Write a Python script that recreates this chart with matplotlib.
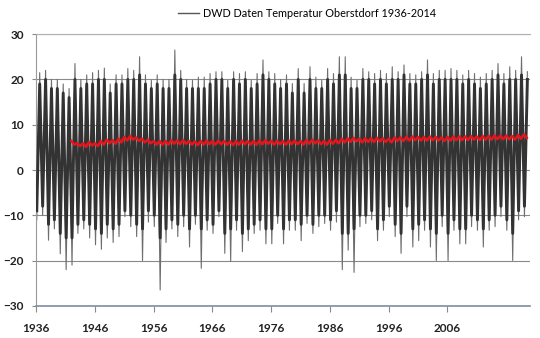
import matplotlib
matplotlib.use("Agg")
import matplotlib.pyplot as plt
import numpy as np

plt.rcParams['font.family'] = ['Lato', 'DejaVu Sans']

# one cycle per year: winter low / summer high (extremes and dense core)
years = list(range(1936, 2020))
t_high = [21.5, 22, 20, 20, 19, 18, 23.5, 20, 21, 21.5, 22, 22.5, 19, 21,
          21, 22.4, 22, 25, 21, 19.8, 21, 20, 20, 26.5, 22, 20, 19.8, 20.5,
          20.5, 21.3, 21.7, 21.7, 19.8, 21.7, 21.3, 21.7, 19.8, 21.3, 24.3, 21.7, 21.3, 20,
          21, 19.1, 22.4, 19.1, 22.8, 20.5, 19.8, 22.4, 21.3, 25, 25, 20.5, 19.8, 22.4,
          21.7, 21.3, 22, 21.3, 22.8, 21.7, 23.2, 21.3, 21, 21.7, 24.3, 21.3, 22, 22,
          22.4, 22, 21, 22, 21.3, 20.5, 21.3, 22, 23.5, 21.3, 22.8, 22, 25, 21.7]
t_low = [-11, -10, -15.5, -13, -18.5, -22, -21, -14, -13, -15, -16.5, -17.5, -15, -16,
         -14.7, -10.3, -12.5, -14.7, -20, -11.5, -12.5, -26.5, -16, -13, -14.7, -12.5, -17, -12,
         -21.7, -13.3, -14, -10.3, -18.4, -20.2, -13.3, -18, -15.6, -14, -13.3, -16.3, -16.3, -11.8,
         -16.3, -13.3, -13.3, -15.6, -11.8, -14, -12.5, -11.8, -13.3, -11.5, -22, -17.7, -22.6, -12.5,
         -11.8, -11, -15.6, -13.3, -10.3, -14.7, -18.4, -10.3, -17, -15.6, -13.3, -17, -20, -12.5,
         -20, -13.3, -16.3, -16.3, -12.5, -13.3, -17, -13.3, -12.5, -10.3, -13.3, -20, -11, -10.3]
core_high = [19, 20, 18, 18, 17, 16, 20, 18, 19, 19, 20, 20, 17, 19,
             19, 20, 20, 21, 19, 18, 19, 18, 18, 21, 20, 18, 18, 18,
             18, 19, 20, 20, 18, 20, 19, 20, 18, 19, 21, 20, 19, 18,
             19, 17, 20, 17, 20, 18, 18, 20, 19, 21, 21, 18, 18, 20,
             20, 19, 20, 19, 20, 20, 21, 19, 19, 20, 21, 19, 20, 20,
             20, 20, 19, 20, 19, 18, 19, 20, 21, 19, 20, 20, 21, 20]
core_low = [-9, -8, -12, -11, -14, -15, -15, -12, -11, -12, -13, -14, -12, -13,
            -12, -9, -10, -12, -13, -9, -10, -15, -13, -11, -12, -10, -13, -10,
            -13, -11, -12, -9, -14, -13, -11, -14, -13, -12, -11, -13, -13, -10,
            -13, -11, -11, -12, -10, -12, -10, -10, -11, -9, -14, -14, -13, -10,
            -10, -9, -13, -11, -8, -12, -14, -8, -13, -12, -11, -13, -14, -10,
            -14, -11, -13, -13, -10, -11, -13, -11, -10, -8, -11, -14, -9, -8]

# moving average (red), half-year readings from 1942 on
avg_years = list(range(1942, 2020))
avg_jan = [6.4, 5.9, 5.9, 6.2, 5.9, 6.4, 6.7, 6.6,
           6.9, 7.3, 7.5, 7.2, 6.9, 6.7, 6.4, 6.4, 6.4, 6.6,
           6.5, 6.6, 6.4, 6.3, 6.4, 6.5, 6.4, 6.5, 6.4, 6.3,
           6.4, 6.5, 6.4, 6.4, 6.5, 6.6, 6.4, 6.5, 6.4, 6.5,
           6.5, 6.4, 6.6, 6.7, 6.5, 6.4, 6.6, 6.7, 6.9, 7.0,
           7.1, 6.9, 7.0, 7.0, 7.1, 7.0, 6.9, 7.2, 7.2, 7.3,
           7.4, 7.3, 7.3, 7.4, 7.3, 7.2, 7.3, 7.4, 7.4, 7.4,
           7.5, 7.4, 7.5, 7.5, 7.6, 7.6, 7.6, 7.5, 7.7, 7.9]
avg_jul = [5.6, 5.3, 5.1, 5.4, 5.3, 5.6, 5.9, 5.8,
           6.1, 6.5, 6.7, 6.4, 6.1, 5.9, 5.6, 5.6, 5.6, 5.8,
           5.7, 5.8, 5.6, 5.5, 5.6, 5.7, 5.6, 5.7, 5.6, 5.5,
           5.6, 5.7, 5.6, 5.6, 5.7, 5.8, 5.6, 5.7, 5.6, 5.7,
           5.7, 5.6, 5.8, 5.9, 5.7, 5.6, 5.8, 5.9, 6.1, 6.2,
           6.3, 6.1, 6.2, 6.2, 6.3, 6.2, 6.1, 6.4, 6.4, 6.5,
           6.6, 6.5, 6.5, 6.6, 6.5, 6.4, 6.5, 6.6, 6.6, 6.6,
           6.7, 6.6, 6.7, 6.7, 6.8, 6.8, 6.8, 6.7, 6.9, 7.1]

def zigzag(yrs, lows, highs, off_lo, off_hi):
    x, y = [], []
    for yr, lo, hi in zip(yrs, lows, highs):
        x += [yr + off_lo, yr + off_hi]
        y += [lo, hi]
    return x, y

fig = plt.figure(figsize=(5.4, 3.38), dpi=100)
ax = fig.add_axes([0.067, 0.095, 0.914, 0.804])

xs, ys = zigzag(years, t_low, t_high, 0.1, 0.6)
ax.plot(xs, ys, color='#6e6e6e', lw=0.8, zorder=2)
xc, yc = zigzag(years, core_low, core_high, 0.1, 0.6)
ax.plot(xc, yc, color='#333333', lw=2.1, zorder=3,
        label='DWD Daten Temperatur Oberstdorf 1936-2014')

xr, yr_ = zigzag(avg_years, avg_jan, avg_jul, 0.0, 0.5)
ax.plot(xr, yr_, color='#e8141c', lw=1.8, zorder=4)

ax.set_xlim(1936, 2020)
ax.set_ylim(-30, 30)
ax.set_yticks(range(-30, 31, 10))
ax.set_xticks(range(1936, 2007, 10))
ax.grid(axis='y', color='#8a8a8a', lw=0.8)
ax.set_axisbelow(True)
ax.spines['right'].set_visible(False)
ax.spines['top'].set_color('#b0b0b0')
ax.spines['left'].set_color('#9a9a9a')
ax.spines['bottom'].set_color('#7f8ea3')
ax.spines['bottom'].set_linewidth(1.2)
ax.tick_params(axis='x', length=4, color='#8a8a8a', pad=8, labelsize=8.5)
ax.tick_params(axis='y', length=3, color='#8a8a8a', pad=6, labelsize=8.5)
for lab in ax.get_xticklabels() + ax.get_yticklabels():
    lab.set_fontweight('bold')
    lab.set_color('#222222')

leg = ax.legend(loc='lower center', bbox_to_anchor=(0.548, 1.02), frameon=False,
                fontsize=7.8, handlelength=2.0, handletextpad=0.3)
leg.get_lines()[0].set_color('#555555')
leg.get_lines()[0].set_linewidth(1.0)

fig.savefig('out.png', dpi=100)
